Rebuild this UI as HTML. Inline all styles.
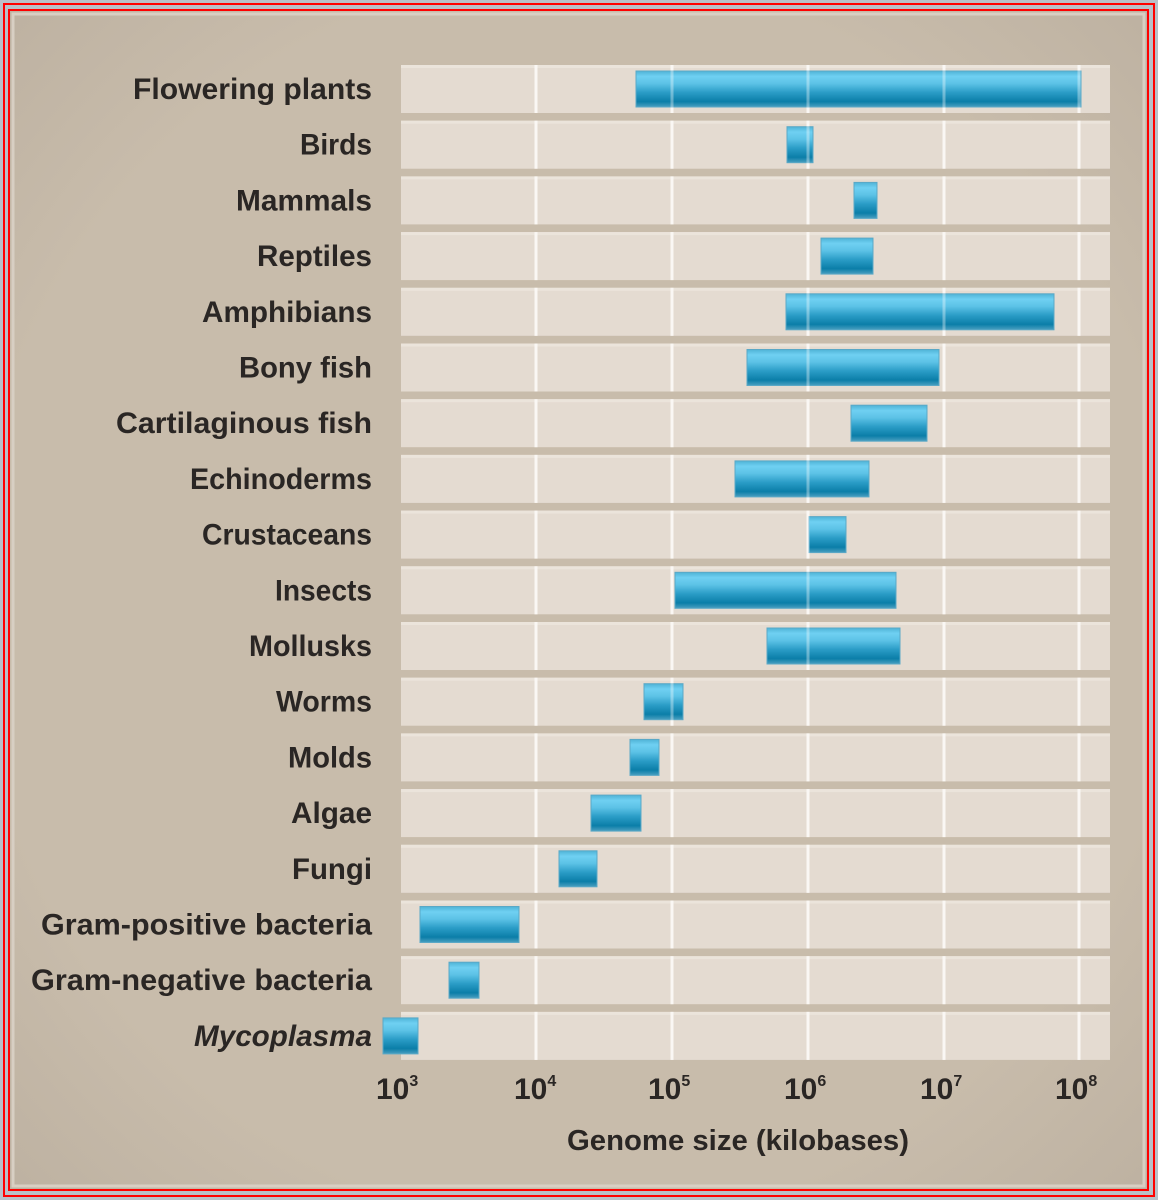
<!DOCTYPE html>
<html><head><meta charset="utf-8"><style>
html,body{margin:0;padding:0;background:#b9c0c8;}
svg{display:block}
text{font-family:"Liberation Sans Narrow","Liberation Sans",sans-serif;font-weight:bold;fill:#2a2624}
</style></head><body>
<svg width="1158" height="1200" viewBox="0 0 1158 1200" xmlns="http://www.w3.org/2000/svg">
<defs>
<linearGradient id="bar" x1="0" y1="0" x2="0" y2="1">
<stop offset="0" stop-color="#4fb3d6"/>
<stop offset="0.15" stop-color="#6fd0f2"/>
<stop offset="0.35" stop-color="#5cc2e6"/>
<stop offset="0.6" stop-color="#2a9cc6"/>
<stop offset="0.85" stop-color="#0b7ea8"/>
<stop offset="1" stop-color="#4a9fc0"/>
</linearGradient>
<radialGradient id="bg" cx="0.5" cy="0.5" r="0.75">
<stop offset="0.7" stop-color="#c8bcab"/>
<stop offset="1" stop-color="#bbaf9f"/>
</radialGradient>
</defs>
<rect x="0" y="0" width="1158" height="1200" fill="#b9c0c8"/>
<rect x="4" y="4" width="1150" height="1192" fill="none" stroke="#f00" stroke-width="2"/>
<rect x="9" y="10" width="1139" height="1180" fill="url(#bg)" stroke="#f00" stroke-width="2"/>
<rect x="13" y="14" width="1131" height="1172" fill="none" stroke="#d8cfc3" stroke-width="3"/>
<g id="rows"></g>
<g id="ticks" font-size="30">
<text x="376" y="1099">10<tspan font-size="16" dy="-13">3</tspan></text>
<text x="514" y="1099">10<tspan font-size="16" dy="-13">4</tspan></text>
<text x="648" y="1099">10<tspan font-size="16" dy="-13">5</tspan></text>
<text x="784" y="1099">10<tspan font-size="16" dy="-13">6</tspan></text>
<text x="920" y="1099">10<tspan font-size="16" dy="-13">7</tspan></text>
<text x="1055" y="1099">10<tspan font-size="16" dy="-13">8</tspan></text>
</g>
<text x="738" y="1150" font-size="29" text-anchor="middle" textLength="342" lengthAdjust="spacingAndGlyphs">Genome size (kilobases)</text>
</svg>
<script>
var d=[["Flowering plants",239,636,1081],["Birds",72,787,813],["Mammals",136,854,877],["Reptiles",115,821,873],["Amphibians",170,786,1054],["Bony fish",133,747,939],["Cartilaginous fish",256,851,927],["Echinoderms",182,735,869],["Crustaceans",170,809,846],["Insects",97,675,896],["Mollusks",123,767,900],["Worms",96,644,683],["Molds",84,630,659],["Algae",81,591,641],["Fungi",80,559,597],["Gram-positive bacteria",331,420,519],["Gram-negative bacteria",341,449,479],["Mycoplasma",178,383,418]];
var ns="http://www.w3.org/2000/svg",g=document.getElementById("rows");
function el(t,a,txt){var e=document.createElementNS(ns,t);for(var k in a)e.setAttribute(k,a[k]);if(txt)e.textContent=txt;g.appendChild(e);return e;}
d.forEach(function(r,i){var c=89+i*55.7;
el("rect",{x:401,y:c-24,width:709,height:48,fill:"#e4dbd1"});
el("rect",{x:401,y:c-24,width:709,height:3,fill:"#ebe4db"});
});
[536,672,808,944,1079].forEach(function(x){for(var i=0;i<18;i++){var c=89+i*55.7;el("rect",{x:x-1.5,y:c-24,width:3,height:48,fill:"#f7f3ee"});}});
d.forEach(function(r,i){var c=89+i*55.7;
el("rect",{x:r[2],y:c-18,width:r[3]-r[2],height:36,fill:"url(#bar)",stroke:"#5aa8c6","stroke-width":1});
var a={x:372,y:c+10,"font-size":30,"text-anchor":"end",textLength:r[1],lengthAdjust:"spacingAndGlyphs"};
if(i==17)a["font-style"]="italic";
el("text",a,r[0]);
});
[536,672,808,944,1079].forEach(function(x){for(var i=0;i<18;i++){var c=89+i*55.7;el("rect",{x:x-1.5,y:c-24,width:3,height:48,fill:"#ffffff",opacity:0.35});}});
</script>
</body></html>
